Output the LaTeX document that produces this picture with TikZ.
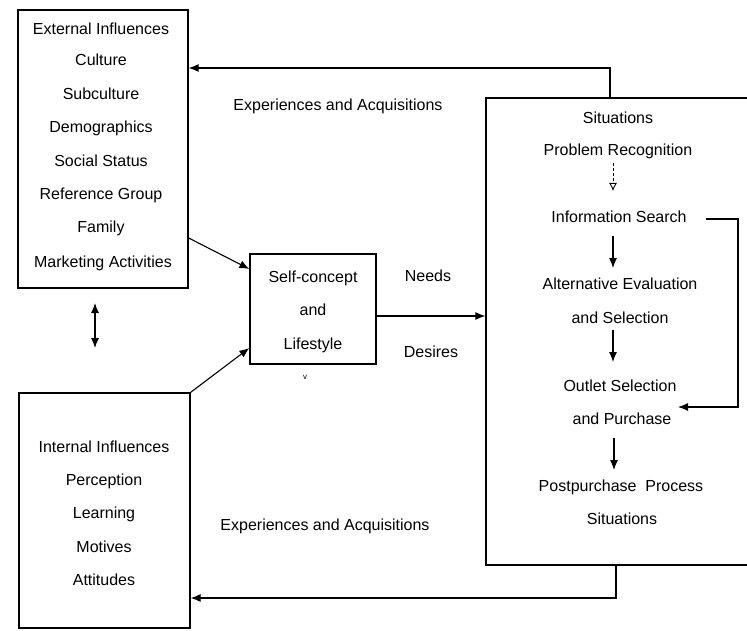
\documentclass[tikz,border=0pt]{standalone}
\usepackage{fontspec}
\setmainfont{Liberation Sans}
\usetikzlibrary{arrows.meta}
\begin{document}
\begin{tikzpicture}[x=1pt,y=-1pt,
  box/.style={draw,line width=1.3pt,inner sep=0pt,anchor=center},
  lbl/.style={anchor=base,inner sep=0pt,font=\fontsize{16}{19}\selectfont},
  arr/.style={line width=1.1pt,-{Latex[length=10pt,width=8pt]}},
  dblarr/.style={line width=1.1pt,{Latex[length=10pt,width=8pt]}-{Latex[length=10pt,width=8pt]}},
  dasharr/.style={line width=0.9pt,densely dashed,-{Latex[length=8pt,width=8pt,open]}},
]
\clip (0,0) rectangle (747,631);
\fill[white] (0,0) rectangle (747,631);

% boxes
\node[box,minimum width=170pt,minimum height=278pt] (ext) at (103,149) {};
\node[box,minimum width=171pt,minimum height=235pt] (int) at (104.5,510.5) {};
\node[box,minimum width=126pt,minimum height=110pt] (self) at (313,309) {};
\node[box,minimum width=274pt,minimum height=467pt] (sit) at (623,331.5) {};

% external influences
\node[lbl] (e0) at (101,35) {External Influences};
\node[lbl] (e1) at (101,66) {Culture};
\node[lbl] (e2) at (101,100) {Subculture};
\node[lbl] (e3) at (101,133) {Demographics};
\node[lbl] (e4) at (101,167) {Social Status};
\node[lbl] (e5) at (101,200) {Reference Group};
\node[lbl] (e6) at (101,233) {Family};
\node[lbl] (e7) at (103,267) {Marketing Activities};

% internal influences
\node[lbl] (i0) at (104,452) {Internal Influences};
\node[lbl] (i1) at (104,485) {Perception};
\node[lbl] (i2) at (104,518) {Learning};
\node[lbl] (i3) at (104,552) {Motives};
\node[lbl] (i4) at (104,585) {Attitudes};

% self concept
\node[lbl] (s1) at (313,282) {Self-concept};
\node[lbl] (s2) at (313,315) {and};
\node[lbl] (s3) at (313,349) {Lifestyle};
\node[anchor=base,inner sep=0pt,font=\fontsize{8}{9}\selectfont] (sv) at (305,379) {v};

% situations
\node[lbl] (t0) at (618,124) {Situations};
\node[lbl] (pr) at (618,156) {Problem Recognition};
\node[lbl] (is) at (619,223) {Information Search};
\node[lbl] (ae1) at (620,289) {Alternative Evaluation};
\node[lbl] (ae2) at (620,323) {and Selection};
\node[lbl] (os1) at (620,391) {Outlet Selection};
\node[lbl] (os2) at (622,424) {and Purchase};
\node[lbl] (pp) at (621,491) {Postpurchase\ \ Process};
\node[lbl] (t1) at (622,524) {Situations};

% other labels
\node[lbl] (ea1) at (338,111) {Experiences and Acquisitions};
\node[lbl] (ea2) at (325,530) {Experiences and Acquisitions};
\node[lbl] (nd) at (428,281) {Needs};
\node[lbl] (ds) at (431,357) {Desires};

% helper coordinates
\coordinate (tc) at (610,68);
\coordinate (bc) at (616,598);
\coordinate (d1) at (95,303);
\coordinate (d2) at (95,348);
\coordinate (f1) at (706,219);
\coordinate (f2) at (738,219);
\coordinate (f3) at (678,407);

% connectors
\draw[arr] (sit.north -| tc) -- (tc) -- (ext.east |- tc);
\draw[arr] (sit.south -| bc) -- (bc) -- (int.east |- bc);
\draw[dblarr] (d1) -- (d2);
\draw[arr] (ext.east |- 0,238) -- (self.west |- 0,269);
\draw[arr] (int.north east) -- (self.west |- 0,348);
\draw[arr] (self.east |- 0,316) -- (sit.west |- 0,316);

\draw[dasharr] (613,163) -- (613,191);
\draw[arr] (613,236) -- (613,268);
\draw[arr] (613,330) -- (613,362);
\draw[arr] (614,438) -- (614,470);
\draw[arr] (f1) -- (f2) |- (f3);
\end{tikzpicture}
\end{document}
